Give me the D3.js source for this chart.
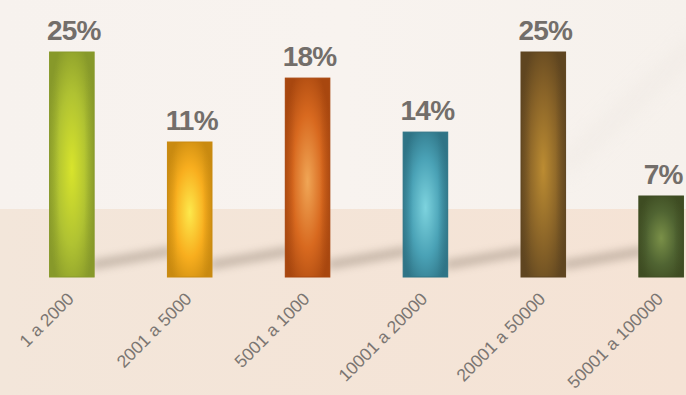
<!DOCTYPE html>
<html>
<head>
<meta charset="utf-8">
<script src="https://cdn.jsdelivr.net/npm/d3@7"></script>
<style>
  html, body { margin: 0; padding: 0; background: #f6f1ec; }
  svg { display: block; }
</style>
</head>
<body>
<svg id="chart" width="686" height="395"></svg>
<script>
// ---- data ----
const categories = ["1 a 2000", "2001 a 5000", "5001 a 1000", "10001 a 20000", "20001 a 50000", "50001 a 100000"];
const percentLabels = [25, 11, 18, 14, 25, 7];          // printed values
const barLevels = [25, 15, 22.1, 16.1, 25, 9];           // apparent bar heights (same % units)
const colorCenters = ["#d8e42c", "#fde94c", "#f0a656", "#7dd3de", "#bc8c32", "#7a9048"];
const colorMids    = ["#b0c232", "#f8ae1e", "#d8691f", "#4aa2b6", "#8a6428", "#506432"];
const colorEdges   = ["#87992a", "#c98a10", "#a8470f", "#2f7486", "#5f4520", "#3e4c22"];

const W = 686, H = 395;
const svg = d3.select("#chart");
const defs = svg.append("defs");

// background
const bgTop = defs.append("linearGradient").attr("id", "bgTop").attr("x1", 0).attr("y1", 0).attr("x2", 1).attr("y2", 0);
bgTop.append("stop").attr("offset", "0%").attr("stop-color", "#f7f2ee");
bgTop.append("stop").attr("offset", "50%").attr("stop-color", "#f8f3ef");
bgTop.append("stop").attr("offset", "100%").attr("stop-color", "#f6f1ec");
const bgBot = defs.append("linearGradient").attr("id", "bgBot").attr("x1", 0).attr("y1", 0).attr("x2", 1).attr("y2", 0);
bgBot.append("stop").attr("offset", "0%").attr("stop-color", "#f3e6da");
bgBot.append("stop").attr("offset", "100%").attr("stop-color", "#f5e3d5");

svg.append("rect").attr("x", 0).attr("y", 0).attr("width", W).attr("height", 209).attr("fill", "url(#bgTop)");
svg.append("rect").attr("x", 0).attr("y", 209).attr("width", W).attr("height", H - 209).attr("fill", "url(#bgBot)");

// faint diagonal streak at top right
const streakBlur = defs.append("filter").attr("id", "streakBlur").attr("x", "-50%").attr("y", "-50%").attr("width", "200%").attr("height", "200%");
streakBlur.append("feGaussianBlur").attr("stdDeviation", 10);
svg.append("line").attr("x1", 560).attr("y1", 170).attr("x2", 700).attr("y2", 40)
  .attr("stroke", "#ebe5df").attr("stroke-width", 14).attr("opacity", 0.5).attr("filter", "url(#streakBlur)");

// scales
const x = d3.scaleBand().domain(categories).range([26, 707]).paddingInner(0.622).paddingOuter(0.2);
const y = d3.scaleLinear().domain([0, 25]).range([277, 52]);

// shadows
const shBlur = defs.append("filter").attr("id", "shBlur").attr("x", "-30%").attr("y", "-100%").attr("width", "160%").attr("height", "300%");
shBlur.append("feGaussianBlur").attr("stdDeviation", 4);
const shadowData = categories.slice(0, -1).map((c, i) => ({ from: c, to: categories[i + 1] }));
svg.append("g").selectAll("line").data(shadowData).join("line")
  .attr("x1", d => x(d.from) + x.bandwidth() - 2)
  .attr("y1", 265)
  .attr("x2", d => x(d.to) + 4)
  .attr("y2", 251)
  .attr("stroke", "#6e5e50")
  .attr("stroke-width", 9)
  .attr("opacity", 0.35)
  .attr("filter", "url(#shBlur)");

// gradients per bar
categories.forEach((c, i) => {
  const g = defs.append("radialGradient").attr("id", "bar" + i)
    .attr("cx", "50%").attr("cy", "52%").attr("r", "75%")
    .attr("fx", "50%").attr("fy", "52%");
  g.append("stop").attr("offset", "0%").attr("stop-color", colorCenters[i]);
  g.append("stop").attr("offset", "45%").attr("stop-color", colorMids[i]);
  g.append("stop").attr("offset", "80%").attr("stop-color", colorEdges[i]);
  const h = defs.append("linearGradient").attr("id", "barEdge" + i).attr("x1", 0).attr("y1", 0).attr("x2", 1).attr("y2", 0);
  h.append("stop").attr("offset", "0%").attr("stop-color", colorEdges[i]).attr("stop-opacity", 0.55);
  h.append("stop").attr("offset", "22%").attr("stop-color", colorEdges[i]).attr("stop-opacity", 0);
  h.append("stop").attr("offset", "78%").attr("stop-color", colorEdges[i]).attr("stop-opacity", 0);
  h.append("stop").attr("offset", "100%").attr("stop-color", colorEdges[i]).attr("stop-opacity", 0.6);
});

const bars = svg.append("g");
bars.selectAll("rect.bar").data(categories).join("rect")
  .attr("class", "bar")
  .attr("x", d => x(d))
  .attr("y", (d, i) => y(barLevels[i]))
  .attr("width", x.bandwidth())
  .attr("height", (d, i) => y(0) - y(barLevels[i]))
  .attr("fill", (d, i) => `url(#bar${i})`)
  .attr("stroke", (d, i) => colorEdges[i])
  .attr("stroke-width", 1);
bars.selectAll("rect.edge").data(categories).join("rect")
  .attr("class", "edge")
  .attr("x", d => x(d))
  .attr("y", (d, i) => y(barLevels[i]))
  .attr("width", x.bandwidth())
  .attr("height", (d, i) => y(0) - y(barLevels[i]))
  .attr("fill", (d, i) => `url(#barEdge${i})`);

// value labels
svg.append("g").selectAll("text").data(categories).join("text")
  .attr("x", d => x(d) + x.bandwidth() / 2 + 2)
  .attr("y", (d, i) => y(barLevels[i]) - 12)
  .attr("text-anchor", "middle")
  .attr("font-family", "'Liberation Sans', Arial, sans-serif")
  .attr("font-weight", "bold")
  .attr("font-size", 28)
  .attr("letter-spacing", -0.8)
  .attr("fill", "#736e6a")
  .text((d, i) => percentLabels[i] + "%");

// category labels
svg.append("g").selectAll("text").data(categories).join("text")
  .attr("transform", d => `translate(${x(d) + x.bandwidth() / 2 + 3},300) rotate(-45)`)
  .attr("text-anchor", "end")
  .attr("font-family", "'Liberation Sans', Arial, sans-serif")
  .attr("font-size", 17.5)
  .attr("fill", "#7b7672")
  .text(d => d);
</script>
</body>
</html>
